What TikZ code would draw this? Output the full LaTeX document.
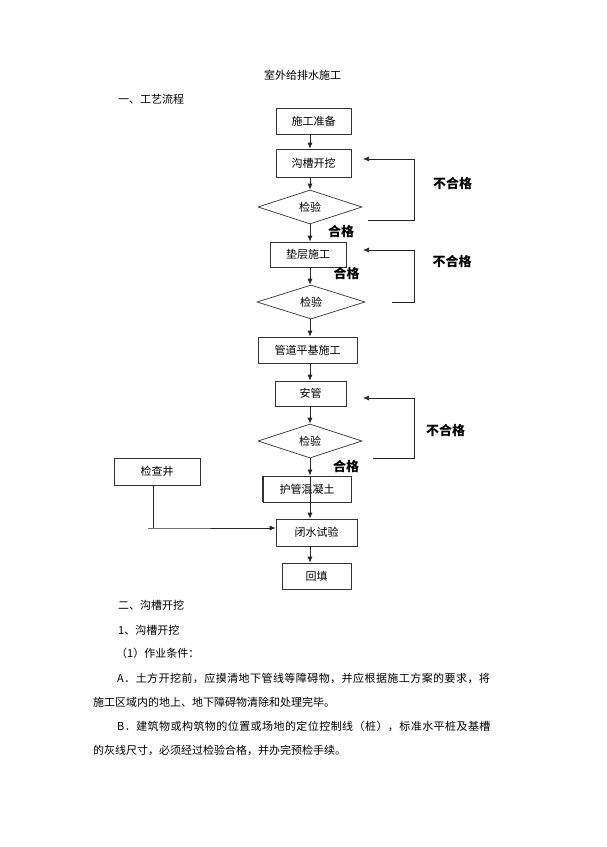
\documentclass[tikz,border=0pt]{standalone}
\usepackage{fontspec}
\setmainfont{Noto Sans CJK SC}
\usetikzlibrary{shapes.geometric,arrows.meta}
\begin{document}
\begin{tikzpicture}[x=1pt,y=-1pt,
  every node/.style={font=\fontsize{11}{13}\selectfont, inner sep=0pt},
  fbox/.style={draw=black!80, line width=0.7pt},
  dia/.style={draw=black!80, line width=0.7pt, shape=diamond, aspect=3},
  lbl/.style={font=\fontsize{13}{15}\selectfont\bfseries},
  txt/.style={anchor=west},
  jtxt/.style={anchor=west, font=\fontsize{11}{13}\selectfont\addfontfeature{LetterSpace=4}},
  arr/.style={-{Latex[length=6pt,width=5pt]}, line width=0.7pt, draw=black!85},
  ln/.style={line width=0.7pt, draw=black!85}]
\useasboundingbox[fill=white] (0,0) rectangle (607,847);

% headings
\node (title) at (302.5,75) {室外给排水施工};
\node[txt] (h1) at (118,99) {一、工艺流程};

% main line x
\coordinate (mx) at (310,0);

% flow nodes
\node[fbox, minimum width=75pt, minimum height=26pt] (prep) at (313.5,121) {施工准备};
\node[fbox, minimum width=75pt, minimum height=28pt] (dig) at (313.5,163) {沟槽开挖};
\node[dia, minimum width=104pt, minimum height=34pt] (d1) at (310,207) {检验};
\node[fbox, minimum width=76pt, minimum height=25pt] (cush) at (308,254.5) {垫层施工};
\node[dia, minimum width=108pt, minimum height=34pt] (d2) at (311,302) {检验};
\node[fbox, minimum width=99pt, minimum height=26pt] (pj) at (307.5,350) {管道平基施工};
\node[fbox, minimum width=71pt, minimum height=25pt] (ag) at (310.5,393.5) {安管};
\node[dia, minimum width=104pt, minimum height=34pt] (d3) at (310,441) {检验};
\node[fbox, line width=0.9pt, minimum width=88pt, minimum height=26pt] (hg) at (307,489) {护管混凝土};
\node[fbox, minimum width=81pt, minimum height=27pt] (bs) at (316.5,532.5) {闭水试验};
\node[fbox, minimum width=69pt, minimum height=26pt] (ht) at (316.5,576) {回填};
\node[fbox, minimum width=86pt, minimum height=27pt] (jc) at (157,471.5) {检查井};
\draw[line width=1.7pt, black!80] (hg.north west) -- (hg.south west);

% main arrows
\draw[arr] (prep.south -| mx) -- (dig.north -| mx);
\draw[arr] (dig.south -| mx) -- (d1.north);
\draw[arr] (d1.south) -- (cush.north -| mx);
\draw[arr] (cush.south -| mx) -- (d2.north -| mx);
\draw[arr] (d2.south -| mx) -- (pj.north -| mx);
\draw[arr] (pj.south -| mx) -- (ag.north -| mx);
\draw[arr] (ag.south -| mx) -- (d3.north);
\draw[arr] (d3.south) -- (hg.north -| mx);
\draw[arr] (hg.north -| mx) -- (bs.north -| mx);
\draw[arr] (bs.south -| mx) -- (ht.north -| mx);

% check well branch
\coordinate (jcx) at (153,0);
\coordinate (jcj) at (153,528);
\coordinate (jcs) at (148,528);
\draw[ln] (jc.south -| jcx) -- (jcj);
\draw[arr] (jcs) -- (jcj) -- (bs.west |- jcj);

% feedback loops
\coordinate (f1s) at (368,220);
\coordinate (f1e) at (363,159);
\draw[arr] (f1s) -- (414,220) -- (414,159) -- (f1e);
\coordinate (f2s) at (392,302);
\coordinate (f2e) at (363,250);
\draw[arr] (f2s) -- (414,302) -- (414,250) -- (f2e);
\coordinate (f3s) at (373,458);
\coordinate (f3e) at (363,398);
\draw[arr] (f3s) -- (414,458) -- (414,398) -- (f3e);

% labels
\node[lbl] (n1) at (452.5,184) {不合格};
\node[lbl] (p1) at (341,232) {合格};
\node[lbl] (n2) at (452,262) {不合格};
\node[lbl] (p2) at (346.5,274) {合格};
\node[lbl] (n3) at (445.5,431) {不合格};
\node[lbl] (p3) at (346,467) {合格};

% body text
\node[txt] (t1) at (118,605) {二、沟槽开挖};
\node[txt] (t2) at (118,630) {1、沟槽开挖};
\node[txt] (t3) at (116,653) {（1）作业条件：};
\node[jtxt] (t4) at (117,678) {A．土方开挖前，应摸清地下管线等障碍物，并应根据施工方案的要求，将};
\node[txt] (t5) at (93,702) {施工区域内的地上、地下障碍物清除和处理完毕。};
\node[jtxt] (t6) at (117,726) {B．建筑物或构筑物的位置或场地的定位控制线（桩），标准水平桩及基槽};
\node[txt] (t7) at (93,750) {的灰线尺寸，必须经过检验合格，并办完预检手续。};
\end{tikzpicture}
\end{document}
